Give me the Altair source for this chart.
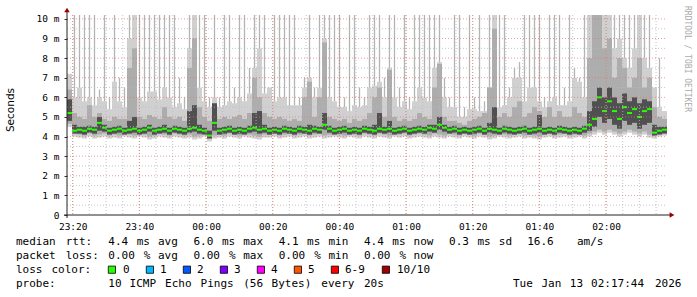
import re
import altair as alt
import pandas as pd

# ---- time axis (seconds of day, UTC formatting) ----
T_START = 83897          # left edge of plot (~23:18:17)
STEP = 90                # one column = 90 s
SPAN = 10800             # 3 hours

# ---- smoke / median values (ms), one per 90 s column ----
lo = [
    4.5, 4.0, 3.95, 3.9, 4.0, 3.9, 3.95, 4.0, 3.9, 3.95,
    3.9, 4.0, 3.95, 3.9, 4.0, 3.95, 3.85, 3.9, 4.0, 3.95,
    3.9, 4.0, 3.95, 3.9, 3.95, 3.85, 3.9, 4.0, 3.75, 3.9,
    3.95, 3.9, 4.0, 3.95, 3.9, 4.0, 3.95, 3.9, 3.85, 3.95,
    3.95, 4.0, 3.9, 3.95, 4.0, 3.9, 3.95, 4.0, 3.9, 3.95,
    4.0, 3.9, 3.95, 4.0, 3.95, 3.9, 4.0, 3.95, 3.9, 4.0,
    3.95, 3.9, 4.0, 3.95, 3.9, 4.0, 3.95, 4.0, 3.9, 3.95,
    4.0, 3.95, 3.9, 4.0, 3.95, 3.9, 4.0, 3.95, 3.9, 4.0,
    3.95, 3.9, 4.0, 3.95, 3.85, 3.9, 4.0, 3.95, 3.9, 3.95,
    4.0, 3.9, 3.95, 3.9, 3.85, 3.95, 4.0, 3.9, 3.95, 4.0,
    3.9, 3.95, 4.0, 3.9, 4.0, 4.1, 4.2, 4.1, 4.2, 4.1,
    4.0, 4.1, 4.2, 4.1, 4.0, 4.1, 3.95, 3.9, 4.0, 4.05,
]
dlo = [
    4.8, 4.15, 4.15, 4.1, 4.2, 4.15, 4.3, 4.25, 4.1, 4.15,
    4.2, 4.1, 4.15, 4.2, 4.1, 4.15, 4.25, 4.1, 4.15, 4.2,
    4.1, 4.2, 4.15, 4.1, 4.2, 4.25, 4.15, 4.1, 3.9, 4.3,
    4.1, 4.15, 4.2, 4.1, 4.15, 4.1, 4.2, 4.25, 4.15, 4.2,
    4.1, 4.15, 4.1, 4.2, 4.15, 4.1, 4.2, 4.15, 4.1, 4.2,
    4.15, 4.35, 4.2, 4.1, 4.15, 4.2, 4.1, 4.15, 4.1, 4.2,
    4.15, 4.1, 4.2, 4.15, 4.2, 4.1, 4.15, 4.2, 4.1, 4.15,
    4.2, 4.15, 4.25, 4.2, 4.35, 4.25, 4.15, 4.2, 4.1, 4.15,
    4.1, 4.15, 4.2, 4.1, 4.2, 4.15, 4.1, 4.2, 4.15, 4.1,
    4.15, 4.2, 4.1, 4.15, 4.2, 4.1, 4.15, 4.1, 4.2, 4.15,
    4.1, 4.15, 4.1, 4.2, 4.3, 4.5, 5.0, 4.7, 4.9, 4.6,
    4.4, 4.8, 4.6, 4.7, 4.4, 4.6, 4.7, 4.05, 4.1, 4.15,
]
med = [
    5.2, 4.3, 4.35, 4.3, 4.4, 4.35, 4.7, 4.45, 4.3, 4.35,
    4.4, 4.3, 4.35, 4.4, 4.3, 4.35, 4.45, 4.3, 4.35, 4.4,
    4.3, 4.4, 4.35, 4.3, 4.4, 4.45, 4.35, 4.3, 4.05, 4.7,
    4.3, 4.35, 4.4, 4.3, 4.35, 4.3, 4.4, 4.45, 4.35, 4.4,
    4.3, 4.35, 4.3, 4.4, 4.35, 4.3, 4.4, 4.35, 4.3, 4.4,
    4.35, 4.6, 4.4, 4.3, 4.35, 4.4, 4.3, 4.35, 4.3, 4.4,
    4.35, 4.3, 4.4, 4.35, 4.4, 4.3, 4.35, 4.4, 4.3, 4.35,
    4.4, 4.35, 4.45, 4.4, 4.6, 4.45, 4.35, 4.4, 4.3, 4.35,
    4.3, 4.35, 4.4, 4.3, 4.4, 4.35, 4.3, 4.4, 4.35, 4.3,
    4.35, 4.4, 4.3, 4.35, 4.4, 4.3, 4.35, 4.3, 4.4, 4.35,
    4.3, 4.35, 4.3, 4.4, 4.6, 4.9, 6.0, 5.3, 5.8, 5.3,
    4.9, 5.5, 5.2, 5.4, 5.0, 5.3, 5.4, 4.2, 4.3, 4.35,
]
dk = [
    5.9, 4.6, 4.5, 4.5, 4.55, 4.5, 5.0, 4.6, 4.45, 4.5,
    4.55, 4.45, 4.8, 5.0, 4.45, 4.5, 4.6, 4.45, 4.5, 4.6,
    4.45, 4.55, 4.5, 4.45, 5.3, 5.6, 4.6, 4.45, 4.3, 5.7,
    4.45, 4.5, 4.55, 4.45, 4.5, 4.45, 4.55, 5.2, 5.3, 4.6,
    4.45, 4.5, 4.45, 4.55, 4.5, 4.45, 4.55, 4.5, 4.6, 4.55,
    4.5, 5.2, 4.55, 4.45, 4.5, 4.55, 4.45, 4.5, 4.45, 4.55,
    4.5, 4.6, 5.2, 4.5, 4.8, 4.45, 4.5, 4.55, 4.45, 4.5,
    4.55, 4.5, 4.6, 4.6, 5.0, 4.6, 4.5, 4.55, 4.45, 4.5,
    4.45, 4.5, 4.55, 4.45, 4.7, 5.5, 4.45, 4.55, 4.5, 4.45,
    4.5, 4.55, 4.45, 4.5, 5.1, 4.45, 4.5, 4.45, 4.55, 4.5,
    4.45, 4.5, 4.45, 4.55, 5.3, 5.8, 6.5, 6.0, 6.5, 6.0,
    5.7, 6.2, 5.8, 6.0, 5.7, 5.9, 5.8, 4.6, 4.5, 4.5,
]
up = [
    6.4, 5.2, 5.0, 4.9, 5.6, 5.0, 5.2, 4.9, 4.8, 5.0,
    4.9, 4.9, 7.5, 8.5, 5.0, 4.9, 5.1, 5.0, 4.9, 5.5,
    5.0, 4.9, 5.0, 4.8, 7.5, 9.0, 5.5, 5.0, 4.8, 5.6,
    4.9, 5.0, 4.9, 5.0, 5.1, 4.9, 5.2, 7.0, 6.0, 5.2,
    5.0, 4.9, 5.0, 4.9, 4.8, 4.9, 4.8, 6.0, 6.8, 5.0,
    6.0, 8.8, 5.0, 4.9, 4.8, 4.9, 4.7, 4.9, 4.8, 4.9,
    5.2, 6.0, 6.5, 5.0, 7.4, 5.0, 4.8, 4.9, 4.8, 4.9,
    5.2, 5.0, 4.9, 6.5, 7.7, 5.0, 4.8, 4.8, 4.7, 4.6,
    4.8, 4.9, 5.0, 5.2, 6.5, 9.5, 5.0, 5.2, 5.0, 5.5,
    5.8, 5.0, 5.2, 5.5, 5.3, 5.0, 5.5, 5.0, 5.3, 5.0,
    5.0, 5.5, 5.2, 5.0, 8.0, 10.5, 10.5, 8.5, 9.0, 7.0,
    8.0, 7.5, 6.5, 7.0, 8.0, 6.5, 7.0, 5.5, 5.0, 4.9,
]
lt = [
    7.2, 6.0, 6.5, 5.8, 6.0, 5.6, 6.0, 5.8, 5.4, 6.8,
    5.8, 5.5, 9.0, 10.5, 6.0, 5.8, 6.3, 6.3, 5.9, 6.5,
    6.0, 5.5, 5.7, 5.4, 8.5, 10.5, 6.5, 5.8, 5.5, 6.0,
    5.5, 5.6, 5.8, 5.7, 6.0, 5.8, 6.2, 7.5, 8.5, 6.2,
    6.5, 5.8, 6.0, 6.0, 5.6, 5.6, 5.6, 6.5, 7.0, 6.0,
    6.5, 9.0, 6.0, 5.8, 5.5, 5.5, 5.3, 5.6, 5.5, 5.6,
    6.5, 6.6, 6.8, 6.0, 7.5, 6.0, 5.5, 5.8, 5.4, 5.8,
    6.5, 6.0, 5.8, 7.5, 7.8, 6.0, 5.5, 5.5, 5.0, 5.0,
    5.4, 5.4, 5.3, 5.3, 6.5, 10.5, 5.5, 5.6, 6.0, 7.0,
    7.0, 5.8, 6.5, 6.5, 5.8, 5.5, 5.8, 6.0, 5.6, 5.6,
    5.8, 7.0, 6.8, 6.0, 10.5, 10.5, 10.5, 10.5, 10.5, 8.5,
    9.0, 8.0, 7.5, 8.5, 10.5, 8.0, 7.5, 6.5, 5.5, 5.3,
]
hi = [
    7.2, 10.5, 10.5, 10.5, 10.5, 10.5, 6.4, 10.5, 6.0, 10.5,
    7.0, 6.5, 10.5, 10.5, 10.5, 10.5, 10.5, 10.5, 10.5, 10.5,
    10.5, 10.5, 7.0, 6.0, 10.5, 10.5, 10.5, 10.5, 6.0, 10.5,
    6.0, 10.5, 10.5, 6.5, 10.5, 10.5, 7.5, 10.5, 10.5, 10.5,
    6.5, 10.5, 10.5, 10.5, 10.5, 10.5, 6.0, 7.0, 10.5, 6.5,
    10.5, 10.5, 10.5, 10.5, 10.5, 6.0, 10.5, 10.5, 6.5, 6.0,
    10.5, 10.5, 10.5, 7.0, 10.5, 10.5, 6.5, 10.5, 6.0, 10.5,
    10.5, 10.5, 10.5, 10.5, 10.5, 7.0, 6.0, 10.5, 10.5, 5.5,
    10.5, 6.0, 10.5, 5.8, 10.5, 10.5, 10.5, 10.5, 6.5, 7.5,
    7.8, 10.5, 10.5, 10.5, 10.5, 6.0, 10.5, 10.5, 10.5, 6.5,
    10.5, 7.5, 7.0, 10.5, 10.5, 10.5, 10.5, 10.5, 10.5, 10.5,
    10.5, 10.5, 10.5, 10.5, 10.5, 10.5, 10.5, 6.5, 8.0, 5.3,
]

# ---- axis ticks / grid ----
x_major = [84000 + 1200 * k for k in range(9)]          # 23:20 ... 02:00
x_minor = [84000 + 300 * k for k in range(36)]          # every 5 min
y_major = list(range(1, 11))
y_minor = [k + 0.5 for k in range(10)]
y_labels = list(range(0, 11))

# ---- legend texts ----
legend_lines = [
    "median rtt:  4.4 ms avg  6.0 ms max  4.1 ms min  4.4 ms now  0.3 ms sd  16.6   am/s",
    "packet loss: 0.00 % avg  0.00 % max  0.00 % min  0.00 % now",
    "loss color:",
    "probe:       10 ICMP Echo Pings (56 Bytes) every 20s",
]
date_text = "Tue Jan 13 02:17:44 2026"
loss_names = ["0", "1", "2", "3", "4", "5", "6-9", "10/10"]
loss_colors = ["#26ff00", "#00b8ff", "#0059ff", "#7e00ff", "#ff00ff", "#ff5500", "#ff0000", "#a10000"]
loss_box_left = [108, 146, 183, 220, 257, 294, 331, 382]
loss_label_left = [123, 160, 197, 234, 271, 308, 345, 397]

OX, OY = 67, 15          # plot origin in the page
CW = 7.1                 # legend character advance
line_base = [245, 259, 273, 287]

n = len(med)
t0 = [T_START + i * STEP for i in range(n)]
df = pd.DataFrame(dict(
    t0=t0, t1=[t + STEP for t in t0], tc=[t + STEP / 2 for t in t0],
    lo=lo, dlo=dlo, med=med, dk=dk, up=up, lt=lt, hi=hi,
))

xs = alt.Scale(domain=[T_START, T_START + SPAN], nice=False, zero=False)
ys = alt.Scale(domain=[0, 10.2], nice=False, zero=True)

x_axis = alt.Axis(
    values=x_major, labelExpr="utcFormat(datum.value * 1000, '%H:%M')",
    grid=False, domain=False, ticks=False, title=None,
    labelFont="DejaVu Sans Mono", labelFontSize=9.5, labelColor="#000",
    labelPadding=6, labelOverlap=False, labelFlush=False,
)
y_axis = alt.Axis(
    values=y_labels,
    labelExpr="datum.value == 0 ? '0\u00a0\u00a0' : datum.value + ' m'",
    grid=False, domain=False, ticks=True, tickSize=3, tickColor="#333",
    title=None, labelFont="DejaVu Sans Mono", labelFontSize=9.5,
    labelColor="#000", labelPadding=5, labelOverlap=False,
)


def X(field):
    return alt.X(field, scale=xs, axis=x_axis)


def Y(field):
    return alt.Y(field, scale=ys, axis=y_axis)


base = alt.Chart(df)
light = base.mark_rect(color="#d0d0d0", clip=True).encode(
    x=X("t0:Q"), x2="t1", y=Y("lt:Q"), y2="lo",
)
spikes = base.mark_rule(color="#b4b4b4", strokeWidth=1.3, clip=True).encode(
    x=X("tc:Q"), y=Y("lt:Q"), y2="hi",
)
medium = base.mark_rect(color="#adadad", clip=True, y2Offset=-3).encode(
    x=X("t0:Q"), x2="t1", y=Y("up:Q"), y2="lo",
)
dark = base.mark_rect(color="#505050", clip=True).encode(
    x=X("t0:Q"), x2="t1", y=Y("dk:Q"), y2="dlo",
)
median = base.mark_rect(color="#26ff00", yOffset=-1, y2Offset=1).encode(
    x=X("t0:Q"), x2="t1", y=Y("med:Q"), y2="med",
)


def vgrid(vals, color, op):
    return alt.Chart(pd.DataFrame({"v": vals})).mark_rule(
        color=color, strokeDash=[1, 2], strokeWidth=1, opacity=op
    ).encode(x=X("v:Q"), y=alt.value(0), y2=alt.value(200))


def hgrid(vals, color, op):
    return alt.Chart(pd.DataFrame({"v": vals})).mark_rule(
        color=color, strokeDash=[1, 2], strokeWidth=1, opacity=op
    ).encode(y=Y("v:Q"), x=alt.value(0), x2=alt.value(600))


one = pd.DataFrame({"k": [0]})
yline = alt.Chart(one).mark_rule(color="#222", strokeWidth=1).encode(
    x=alt.value(0), y=alt.value(203), y2=alt.value(-5))
xline = alt.Chart(one).mark_rule(color="#222", strokeWidth=1).encode(
    y=alt.value(200), x=alt.value(-3), x2=alt.value(603))
yarrow = alt.Chart(one).mark_point(shape="triangle-up", filled=True, size=30,
                                   color="#9a0000", opacity=1).encode(
    x=alt.value(0), y=alt.value(-5))
xarrow = alt.Chart(one).mark_point(shape="triangle-right", filled=True, size=30,
                                   color="#9a0000", opacity=1).encode(
    x=alt.value(605), y=alt.value(200))

ytitle = alt.Chart(pd.DataFrame({"s": ["Seconds"]})).mark_text(
    angle=270, font="DejaVu Sans", fontSize=10.5, color="#000", baseline="middle"
).encode(x=alt.value(11 - OX), y=alt.value(110 - OY), text="s:N")
credit = alt.Chart(pd.DataFrame({"s": ["RRDTOOL / TOBI OETIKER"]})).mark_text(
    angle=90, font="DejaVu Sans Mono", fontSize=8, color="#aaaaaa", baseline="middle"
).encode(x=alt.value(687 - OX), y=alt.value(59 - OY), text="s:N")

# legend words placed on the monospace grid
rows = []
for li, line in enumerate(legend_lines):
    for m in re.finditer(r"\S+", line):
        rows.append({"w": m.group(), "px": 16 - OX + m.start() * CW, "py": line_base[li] - OY})
for m in re.finditer(r"\S+", date_text):
    rows.append({"w": m.group(), "px": 16 - OX + (70 + m.start()) * CW, "py": line_base[3] - OY})
for name, lx in zip(loss_names, loss_label_left):
    rows.append({"w": name, "px": lx - OX, "py": line_base[2] - OY})
words = alt.Chart(pd.DataFrame(rows)).mark_text(
    align="left", baseline="alphabetic", font="DejaVu Sans Mono", fontSize=11, color="#000"
).encode(x=alt.X("px:Q", scale=None), y=alt.Y("py:Q", scale=None), text="w:N")

boxes = alt.Chart(pd.DataFrame({
    "px": [b - OX + 3.9 for b in loss_box_left],
    "py": [269.7 - OY] * len(loss_box_left),
    "c": loss_colors,
})).mark_square(size=52, filled=True, stroke="#000", strokeWidth=0.8, opacity=1).encode(
    x=alt.X("px:Q", scale=None), y=alt.Y("py:Q", scale=None), color=alt.Color("c:N", scale=None))

chart = alt.layer(
    light, spikes, medium, dark, median,
    vgrid(x_minor, "#b8b8b8", 0.8), hgrid(y_minor, "#b8b8b8", 0.8),
    vgrid(x_major, "#e47070", 0.7), hgrid(y_major, "#e47070", 0.7),
    yline, xline, yarrow, xarrow, ytitle, credit, words, boxes,
).properties(
    width=600, height=200,
    padding={"left": OX, "top": OY, "right": 30, "bottom": 82},
    autosize=alt.AutoSizeParams(type="none"),
    background="#ffffff",
).configure_view(stroke=None)

chart.save("out.html", embed_options={"renderer": "svg", "actions": False})
